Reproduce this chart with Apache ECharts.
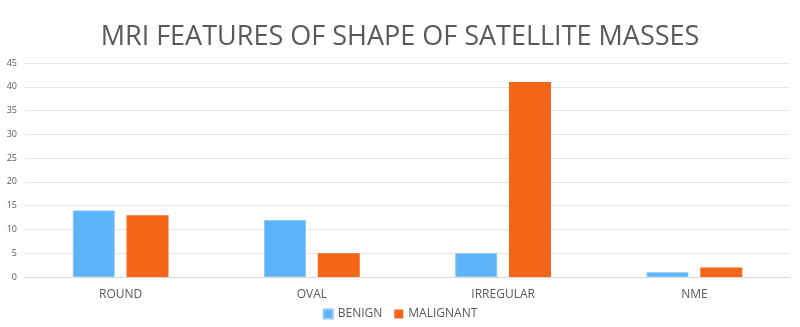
<!DOCTYPE html>
<html>
<head>
<meta charset="utf-8">
<script src="https://cdn.jsdelivr.net/npm/echarts@6/dist/echarts.min.js"></script>
<style>
  html, body { margin: 0; padding: 0; background: #fff; }
  #chart { width: 800px; height: 327px; }
</style>
</head>
<body>
<div id="chart"></div>
<script>
var categories = ['ROUND', 'OVAL', 'IRREGULAR', 'NME'];
var benign = [14, 12, 5, 1];
var malignant = [13, 5, 41, 2];

var myChart = echarts.init(document.getElementById('chart'));
const option = {
  title: {
    text: 'MRI FEATURES OF SHAPE OF SATELLITE MASSES',
    left: 'center',
    top: 19,
    textStyle: {
      color: '#595959',
      fontFamily: 'Open Sans',
      fontWeight: 'normal',
      fontSize: 27
    }
  },
  legend: {
    data: ['BENIGN', 'MALIGNANT'],
    bottom: 2,
    left: 'center',
    itemWidth: 9,
    itemHeight: 9,
    itemGap: 12,
    icon: 'rect',
    textStyle: { color: '#595959', fontSize: 12, fontFamily: 'Open Sans' }
  },
  grid: {
    left: 25,
    right: 10,
    top: 63,
    bottom: 50
  },
  xAxis: [{
    type: 'category',
    data: categories,
    axisTick: { show: false },
    axisLine: { lineStyle: { color: '#d9d9d9' } },
    axisLabel: { color: '#595959', fontSize: 12, fontFamily: 'Open Sans', margin: 12 }
  }],
  yAxis: [{
    type: 'value',
    min: 0,
    max: 45,
    interval: 5,
    axisLine: { show: false },
    axisTick: { show: false },
    axisLabel: { color: '#595959', fontSize: 9, fontFamily: 'Open Sans', margin: 8 },
    splitLine: { lineStyle: { color: '#e6e6e6' } }
  }],
  series: [{
      name: 'BENIGN',
      type: 'bar',
      data: benign,
      barWidth: 42,
      barGap: '28%',
      itemStyle: { color: '#5db3f8', borderColor: '#8cc9f9', borderWidth: 1 }
    }, {
      name: 'MALIGNANT',
      type: 'bar',
      data: malignant,
      barWidth: 42,
      itemStyle: { color: '#f46517' }
    }
  ],
  animation: false
};

myChart.setOption(option);
window.addEventListener("resize", () => {
  myChart.resize();
});
</script>
</body>
</html>
